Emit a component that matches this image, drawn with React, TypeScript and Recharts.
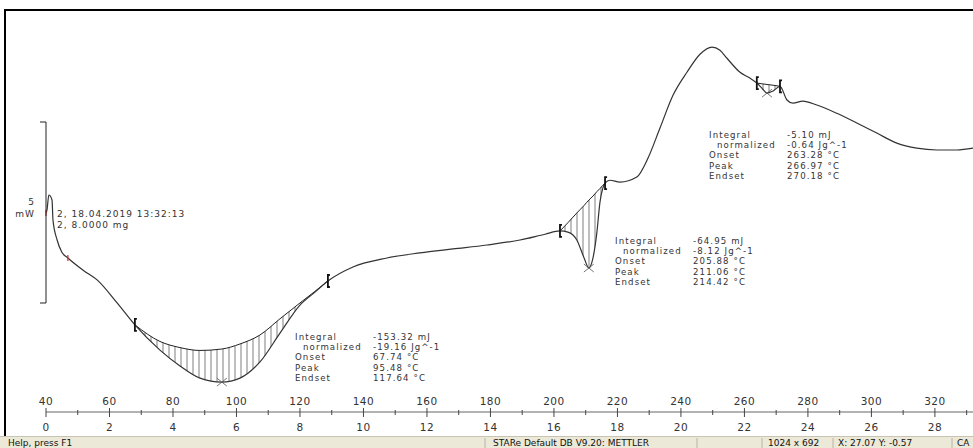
import React from 'react';
import { ComposedChart, Line, Area, XAxis, YAxis, ReferenceDot } from 'recharts';

// DSC run, sample 2 (8.0000 mg), heat flow in mW vs furnace temperature in °C
const temps = [
  40.0, 40.3, 40.9, 41.9, 42.2, 43.5, 45.0, 46.9, 51.7, 56.1, 62.4,
  68.0, 75.9, 82.2, 88.5, 95.4, 101.1, 107.4, 113.7, 120.0, 124.7, 128.8,
  136.7, 147.4, 157.8, 168.2, 178.9, 189.3, 197.2,
  201.9, 204.4, 207.2, 209.5, 211.0, 212.3, 213.5, 214.5, 215.4, 216.1,
  217.6, 220.8, 226.1, 229.6, 233.4, 237.5, 241.9, 246.0, 249.8, 252.3, 254.5, 258.6, 261.7,
  263.9, 265.5, 267.1, 269.0, 271.2,
  273.4, 275.3, 278.4, 282.8, 289.1, 295.4, 301.7, 308.0, 314.3, 320.6, 326.9, 332.0,
];
const heatFlow = [
  2.42, 2.5, 2.92, 2.78, 2.22, 1.67, 1.33, 1.17, 0.83, 0.56, -0.08,
  -0.69, -1.39, -1.83, -2.17, -2.28, -2.17, -1.72, -0.92, -0.14, 0.22, 0.53,
  0.92, 1.17, 1.31, 1.42, 1.53, 1.67, 1.83,
  1.92, 1.89, 1.67, 1.17, 0.89, 1.17, 1.86, 2.72, 3.11, 3.25,
  3.33, 3.28, 3.42, 3.94, 4.78, 5.69, 6.33, 6.83, 7.03, 6.94, 6.72, 6.33, 6.17,
  6.03, 5.89, 5.75, 5.81, 5.94,
  5.56, 5.47, 5.53, 5.42, 5.19, 4.92, 4.64, 4.36, 4.22, 4.17, 4.17, 4.22,
];
// integration baselines (null outside the three evaluated peaks)
const baseline: (number | null)[] = [
  null, null, null, null, null, null, null, null, null, null, null,
  -0.69, -1.15, -1.32, -1.4, -1.36, -1.22, -0.97, -0.52, -0.08, 0.24, 0.53,
  null, null, null, null, null, null, null,
  1.92, 2.15, 2.42, 2.63, 2.78, 2.89, 3.01, 3.1, 3.19, 3.25,
  null, null, null, null, null, null, null, null, null, null, null, null, null,
  6.03, 6.01, 5.99, 5.97, 5.94,
  null, null, null, null, null, null, null, null, null, null, null, null,
];

const limitTemps = [68.0, 128.8, 201.9, 216.1, 263.9, 271.2];
const limitFlows = [-0.69, 0.53, 1.92, 3.25, 6.03, 5.94];
const peakTemps = [95.4, 211.0, 267.1];
const peakFlows = [-2.28, 0.89, 5.75];
const startMarkTemps = [40.0, 46.9];
const startMarkFlows = [2.42, 1.17];

const tempTicks = [40, 50, 60, 70, 80, 90, 100, 110, 120, 130, 140, 150, 160, 170, 180, 190,
  200, 210, 220, 230, 240, 250, 260, 270, 280, 290, 300, 310, 320, 330];

const resultLabels = ['Integral', 'normalized', 'Onset', 'Peak', 'Endset'];
const peak1Values = ['-153.32 mJ', '-19.16 Jg^-1', '67.74 °C', '95.48 °C', '117.64 °C'];
const peak2Values = ['-64.95 mJ', '-8.12 Jg^-1', '205.88 °C', '211.06 °C', '214.42 °C'];
const peak3Values = ['-5.10 mJ', '-0.64 Jg^-1', '263.28 °C', '266.97 °C', '270.18 °C'];

const rows = temps.map((t, i) => ({
  t,
  hf: heatFlow[i],
  base: baseline[i],
  band: baseline[i] == null ? null : [heatFlow[i], baseline[i] as number],
}));

const FONT = '"DejaVu Sans", Verdana, sans-serif';
const ROW = 10.2;

const AxisTick = (props: any) => {
  const { x, y, payload } = props;
  const v = payload.value as number;
  const major = v % 20 === 0;
  return (
    <g>
      <line x1={x} x2={x} y1={major ? y - 4 : y - 2} y2={major ? y + 5 : y + 3} stroke="#444" />
      {major && (
        <text x={x} y={y - 7} textAnchor="middle" fontSize={10.5} letterSpacing={0.5} fill="#333" fontFamily={FONT}>
          {v}
        </text>
      )}
      {major && (
        <text x={x} y={y + 19} textAnchor="middle" fontSize={10.5} letterSpacing={0.5} fill="#333" fontFamily={FONT}>
          {(v - 40) / 10}
        </text>
      )}
    </g>
  );
};

const LimitMark = (props: any) => {
  const { cx, cy } = props;
  return (
    <path
      d={`M${cx + 2},${cy - 6} L${cx},${cy - 6} L${cx},${cy + 6} L${cx + 2},${cy + 6}`}
      stroke="#111"
      strokeWidth={1.8}
      fill="none"
    />
  );
};

const PeakMark = (props: any) => {
  const { cx, cy } = props;
  return (
    <path d={`M${cx - 5},${cy - 4} L${cx + 5},${cy + 4} M${cx - 5},${cy + 4} L${cx + 5},${cy - 4}`} stroke="#555" strokeWidth={0.8} />
  );
};

const RedMark = (props: any) => {
  const { cx, cy } = props;
  return <path d={`M${cx},${cy - 3} L${cx},${cy + 3}`} stroke="#d03030" strokeWidth={1.2} />;
};

const ResultBlock = ({ x, y, values }: { x: number; y: number; values: string[] }) => (
  <g fontFamily={FONT} fontSize={8.6} letterSpacing={1.1} fill="#333">
    {resultLabels.map((l, i) => (
      <text key={l} x={i === 1 ? x + 8 : x} y={y + i * ROW}>
        {l}
      </text>
    ))}
    {values.map((v, i) => (
      <text key={i} x={x + 78} y={y + i * ROW}>
        {v}
      </text>
    ))}
  </g>
);

export default function App() {
  return (
    <div style={{ position: 'absolute', left: 0, top: 0, width: 973, height: 448, background: '#fff', overflow: 'hidden' }}>
      <ComposedChart width={973} height={448} data={rows} margin={{ top: 10, right: 0, left: 46, bottom: 0 }}>
        <defs>
          <pattern id="hatch" patternUnits="userSpaceOnUse" width={6} height={6}>
            <line x1={1} y1={0} x2={1} y2={6} stroke="#111" strokeWidth={0.9} />
          </pattern>
        </defs>
        <XAxis
          dataKey="t"
          type="number"
          domain={[40, 332]}
          allowDataOverflow
          ticks={tempTicks}
          interval={0}
          height={36}
          tickSize={0}
          tickMargin={0}
          tickLine={false}
          axisLine={{ stroke: '#666' }}
          tick={<AxisTick />}
        />
        <YAxis hide type="number" domain={[-3.11, 8.06]} allowDataOverflow />
        <Area
          type="monotone"
          dataKey="band"
          fill="url(#hatch)"
          stroke="none"
          isAnimationActive={false}
          connectNulls={false}
        />
        <Line
          type="monotone"
          dataKey="base"
          stroke="#222"
          strokeWidth={1}
          dot={false}
          connectNulls={false}
          isAnimationActive={false}
        />
        <Line
          type="monotone"
          dataKey="hf"
          stroke="#333"
          strokeWidth={1.2}
          dot={false}
          isAnimationActive={false}
        />
        {limitTemps.map((t, i) => (
          <ReferenceDot key={'l' + i} x={t} y={limitFlows[i]} r={6} shape={<LimitMark />} />
        ))}
        {peakTemps.map((t, i) => (
          <ReferenceDot key={'p' + i} x={t} y={peakFlows[i]} r={5} shape={<PeakMark />} />
        ))}
        {startMarkTemps.map((t, i) => (
          <ReferenceDot key={'s' + i} x={t} y={startMarkFlows[i]} r={3} shape={<RedMark />} ifOverflow="visible" />
        ))}
      </ComposedChart>
      <svg width={973} height={448} style={{ position: 'absolute', left: 0, top: 0, pointerEvents: 'none' }}>
        {/* window frame */}
        <line x1={5} y1={10} x2={973} y2={10} stroke="#000" strokeWidth={2} />
        <line x1={5} y1={9} x2={5} y2={437} stroke="#000" strokeWidth={2} />
        {/* 5 mW scale bar */}
        <path d="M40,122 L46,122 L46,303 L40,303" stroke="#222" strokeWidth={1} fill="none" />
        <g fontFamily={FONT} fontSize={9} fill="#333" letterSpacing={1}>
          <text x={35} y={205} textAnchor="end">5</text>
          <text x={35} y={217} textAnchor="end">mW</text>
          <text x={57} y={216.5}>2, 18.04.2019 13:32:13</text>
          <text x={57} y={227.5}>2, 8.0000 mg</text>
        </g>
        <ResultBlock x={295} y={340} values={peak1Values} />
        <ResultBlock x={615} y={244} values={peak2Values} />
        <ResultBlock x={709} y={138} values={peak3Values} />
        {/* status bar */}
        <rect x={0} y={436} width={973} height={12} fill="#ECE9D8" />
        <line x1={0} y1={436.5} x2={973} y2={436.5} stroke="#c8c4b4" />
        <g stroke="#b8b4a4">
          <line x1={485} y1={438} x2={485} y2={448} />
          <line x1={697} y1={438} x2={697} y2={448} />
          <line x1={762} y1={438} x2={762} y2={448} />
          <line x1={833} y1={438} x2={833} y2={448} />
          <line x1={952} y1={438} x2={952} y2={448} />
        </g>
        <g fontFamily={FONT} fontSize={9} fill="#111">
          <text x={8} y={446}>Help, press F1</text>
          <text x={493} y={446}>STARe Default DB V9.20: METTLER</text>
          <text x={768} y={446}>1024 x 692</text>
          <text x={838} y={446}>X: 27.07 Y: -0.57</text>
          <text x={957} y={446}>CA</text>
        </g>
      </svg>
    </div>
  );
}
